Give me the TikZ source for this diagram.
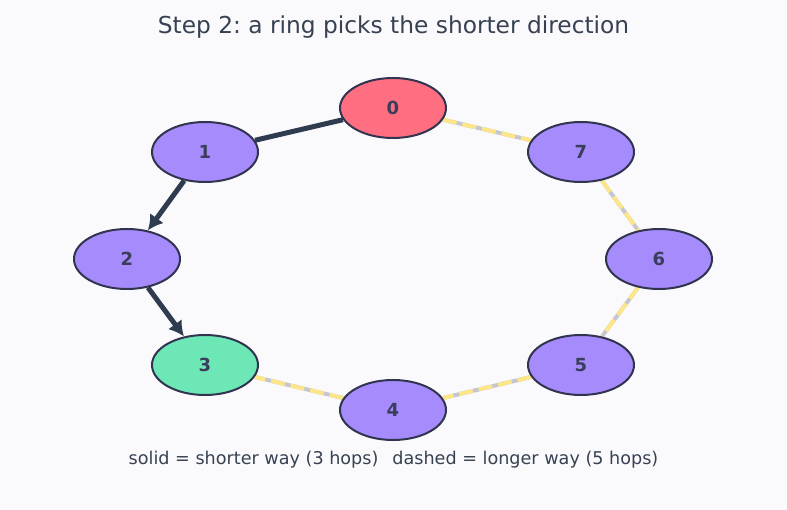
\documentclass[tikz,border=0pt]{standalone}
\usepackage{fontspec}
\setmainfont{DejaVu Sans}
\usetikzlibrary{arrows.meta,shapes.geometric,backgrounds}
\definecolor{pagebg}{HTML}{FAFAFD}
\definecolor{textdark}{HTML}{374151}
\definecolor{inkdark}{HTML}{2F3B4F}
\definecolor{rimdark}{HTML}{30344F}
\definecolor{labeldark}{HTML}{3B3D5C}
\definecolor{ringpurple}{HTML}{A58BFB}
\definecolor{startred}{HTML}{FF6F81}
\definecolor{goalgreen}{HTML}{6EE7B7}
\definecolor{railgray}{HTML}{C4C6D0}
\definecolor{railyellow}{HTML}{FDE68A}
\frenchspacing
\tikzset{
  >=Latex,
  title/.style={font=\fontsize{23.3}{28}\selectfont, text=textdark},
  caption/.style={font=\fontsize{17.6}{21}\selectfont, text=textdark},
  ringnode/.style={
    ellipse, draw=rimdark, line width=2pt, fill=ringpurple,
    minimum width=106pt, minimum height=60pt, inner sep=0pt,
    font=\fontsize{18}{21}\selectfont\bfseries, text=labeldark
  },
  short/.style={line width=5pt, draw=inkdark},
  shortarrow/.style={short, -{Latex[length=15pt,width=17pt]}},
  longrail/.style={line width=4pt, draw=railgray},
  longdash/.style={line width=4pt, draw=railyellow, dash pattern=on 14pt off 6pt}
}
\newcommand{\longway}[2]{
  \draw[longrail] (#1) -- (#2);
  \draw[longdash] (#1) -- (#2);
}

\begin{document}
\begin{tikzpicture}[x=1pt,y=-1pt]
\useasboundingbox (0,0) rectangle (787,510);
\node[title] (head) at (393.5,27) {Step 2: a ring picks the shorter direction};
\node[ringnode, fill=startred] (n0) at (393,108) {0};
\node[ringnode] (n1) at (205,152) {1};
\node[ringnode] (n2) at (127,259) {2};
\node[ringnode, fill=goalgreen] (n3) at (205,365) {3};
\node[ringnode] (n4) at (393,410) {4};
\node[ringnode] (n5) at (581,365) {5};
\node[ringnode] (n6) at (659,259) {6};
\node[ringnode] (n7) at (581,152) {7};
\node[caption] (key) at (393.5,460) {solid = shorter way (3 hops)\hspace{14pt}dashed = longer way (5 hops)};
\begin{pgfonlayer}{background}
\fill[pagebg] (0,0) rectangle (787,510);
\draw[short] (n0) -- (n1);
\draw[shortarrow] (n1) -- (n2);
\draw[shortarrow] (n2) -- (n3);
\longway{n0}{n7}
\longway{n7}{n6}
\longway{n6}{n5}
\longway{n5}{n4}
\longway{n4}{n3}
\end{pgfonlayer}
\end{tikzpicture}
\end{document}
